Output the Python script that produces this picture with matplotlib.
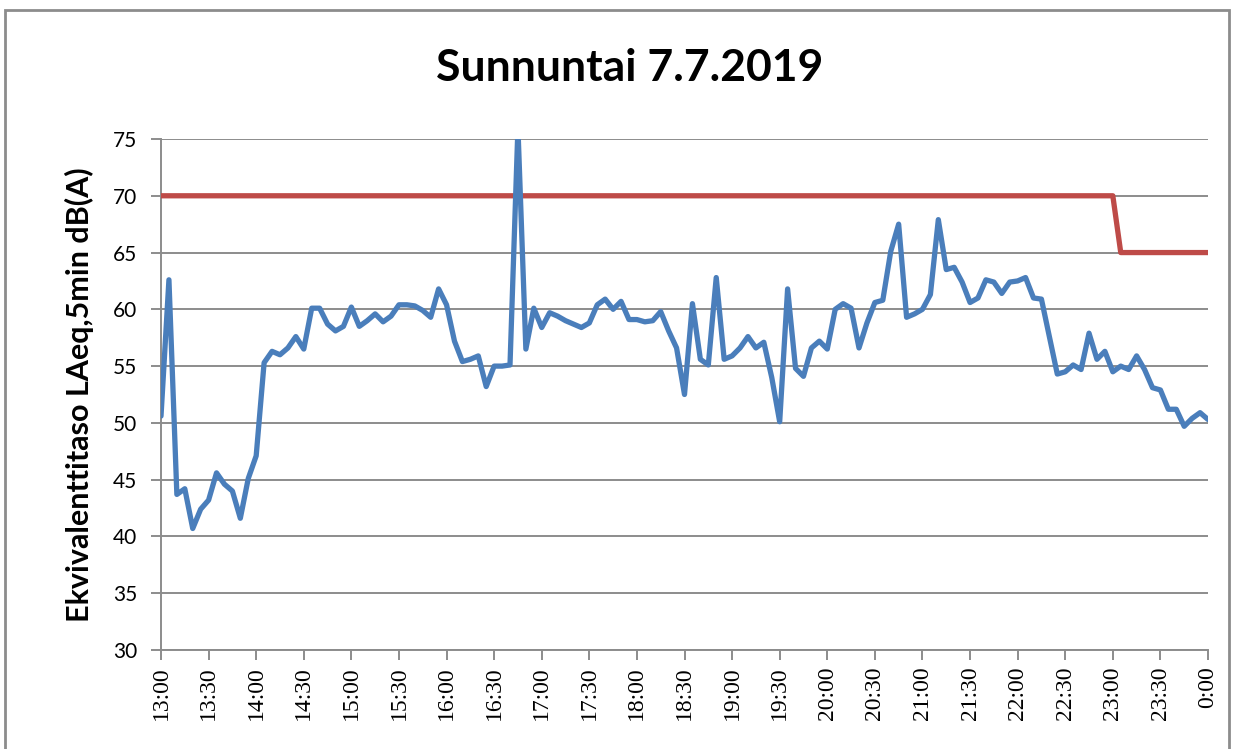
import matplotlib.pyplot as plt
from matplotlib.patches import Rectangle

# 5 min LAeq values, 13:00 -> 0:00
laeq = [
    50.6, 62.6, 43.7, 44.2, 40.7, 42.4, 43.2, 45.6, 44.6, 44.0, 41.6, 45.1,
    47.1, 55.3, 56.3, 56.0, 56.6, 57.6, 56.5, 60.1, 60.1, 58.7, 58.1, 58.5,
    60.2, 58.5, 59.0, 59.6, 58.9, 59.4, 60.4, 60.4, 60.3, 59.9, 59.3, 61.8,
    60.4, 57.2, 55.4, 55.6, 55.9, 53.2, 55.0, 55.0, 55.1, 76.0, 56.5, 60.1,
    58.4, 59.7, 59.4, 59.0, 58.7, 58.4, 58.8, 60.4, 60.9, 60.0, 60.7, 59.1,
    59.1, 58.9, 59.0, 59.8, 58.1, 56.6, 52.5, 60.5, 55.6, 55.1, 62.8, 55.6,
    55.9, 56.6, 57.6, 56.6, 57.1, 54.0, 50.1, 61.8, 54.8, 54.1, 56.6, 57.2,
    56.5, 60.0, 60.5, 60.1, 56.6, 58.8, 60.6, 60.8, 65.1, 67.5, 59.3, 59.6,
    60.0, 61.3, 67.9, 63.5, 63.7, 62.4, 60.6, 61.0, 62.6, 62.4, 61.4, 62.4,
    62.5, 62.8, 61.0, 60.9, 57.6, 54.3, 54.5, 55.1, 54.7, 57.9, 55.6, 56.3,
    54.5, 55.0, 54.7, 55.9, 54.7, 53.1, 52.9, 51.2, 51.2, 49.7, 50.4, 50.9,
    50.3,
]
# raja-arvo: 70 dB paivalla, 65 dB klo 23 jalkeen
raja = [70] * 121 + [65] * 12

tick_labels = ['13:00', '13:30', '14:00', '14:30', '15:00', '15:30', '16:00',
               '16:30', '17:00', '17:30', '18:00', '18:30', '19:00', '19:30',
               '20:00', '20:30', '21:00', '21:30', '22:00', '22:30', '23:00',
               '23:30', '0:00']

x = list(range(len(laeq)))

fig = plt.figure(figsize=(12.38, 7.49), dpi=100)
fig.patches.append(Rectangle((5 / 1238, -0.1), 1224 / 1238, 1.1 - 10 / 749,
                             transform=fig.transFigure, fill=False,
                             edgecolor='#8c8c8c', linewidth=2))

ax = fig.add_axes([161 / 1238, 1 - 650 / 749, 1047 / 1238, 511 / 749])

ax.plot(x, raja, color='#BE4B48', linewidth=3.8, solid_capstyle='round', zorder=3)
ax.plot(x, laeq, color='#4A7EBB', linewidth=3.8, solid_capstyle='round', zorder=4)

ax.set_xlim(0, len(laeq) - 1)
ax.set_ylim(30, 75)
ax.set_yticks(range(30, 76, 5))
ax.set_xticks(range(0, len(laeq), 6))
ax.set_xticklabels(tick_labels, rotation=90, family='Liberation Serif', fontsize=17)
for lab in ax.get_yticklabels():
    lab.set_family('Lato')
    lab.set_fontsize(15)

ax.grid(axis='y', color='#8c8c8c', linewidth=1.4)
ax.set_axisbelow(True)
for s in ['top', 'right']:
    ax.spines[s].set_visible(False)
for s in ['left', 'bottom']:
    ax.spines[s].set_color('#8c8c8c')
    ax.spines[s].set_linewidth(1.4)
ax.tick_params(axis='both', direction='out', length=7, width=1.4, color='#8c8c8c')
ax.tick_params(axis='y', pad=10)
ax.tick_params(axis='x', pad=5)

ax.set_ylabel('Ekvivalenttitaso LAeq,5min dB(A)', family='Lato', fontweight='bold',
              fontsize=22, labelpad=14)
fig.text(630 / 1238, 1 - 68 / 749, 'Sunnuntai 7.7.2019', ha='center', va='center',
         family='Lato', fontweight='bold', fontsize=32)

fig.savefig('out.png', dpi=100)
